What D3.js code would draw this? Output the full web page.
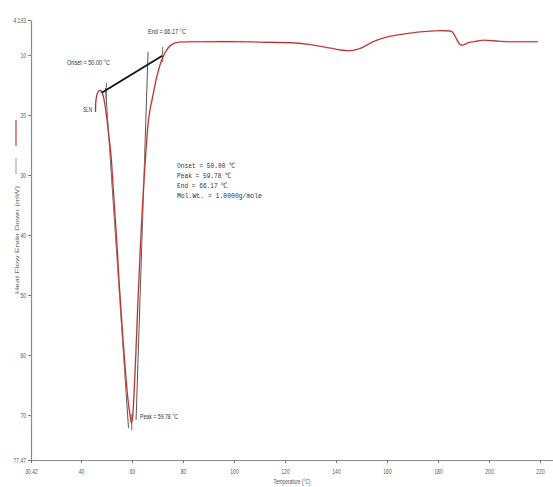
<!DOCTYPE html>
<html><head><meta charset="utf-8">
<script src="https://cdn.jsdelivr.net/npm/d3@7"></script>
<style>
body{margin:0;background:#fff;}
svg{display:block;}
</style></head>
<body><svg id="c" width="553" height="487"></svg>
<script>
// ---- data (temperature °C, heat flow mW) ----
const temperature = [45.69,45.88,46.47,47.25,48.04,48.63,49.41,50.20,50.98,51.76,52.55,53.33,54.12,54.90,55.69,56.47,57.25,58.04,58.82,59.41,59.80,60.20,60.78,61.57,62.35,63.14,63.92,64.71,65.49,66.27,67.06,67.84,68.63,69.41,70.20,70.98,72.16,73.33,74.90,76.86,78.82,86.67,104.31,112.16,121.96,129.80,137.65,141.57,145.49,149.41,154.51,159.22,163.92,170.20,174.90,179.61,183.53,185.49,186.67,187.45,188.63,189.80,191.76,194.51,197.65,202.35,207.06,212.16,219.22];
const heatFlow = [19.51,17.52,16.35,15.93,16.10,16.68,18.35,20.85,23.68,26.68,31.67,36.67,41.67,47.49,52.49,57.49,61.65,65.81,68.81,70.48,71.31,70.48,66.65,59.15,50.82,43.33,36.67,30.84,25.84,21.68,19.18,17.52,15.85,14.19,12.85,11.69,10.36,9.36,8.52,8.02,7.86,7.81,7.81,7.91,7.97,8.27,8.86,9.16,9.31,8.94,7.81,7.11,6.69,6.31,6.11,5.98,6.00,6.14,6.86,7.52,8.27,8.36,7.99,7.77,7.57,7.66,7.81,7.81,7.81];

const xTicks = [30.42,40,60,80,100,120,140,160,180,200,220];
const xTickLabels = ["30.42","40","60","80","100","120","140","160","180","200","220"];
const yTicks = [4.193,10,20,30,40,50,60,70,77.47];
const yTickLabels = ["4.193","10","20","30","40","50","60","70","77.47"];

// baseline (onset -> end) and construction lines, in data units [[T1,V1],[T2,V2]]
const baseline = [[48.12,16.30],[71.88,10.14]];
const tangentLines = [
  [[49.61,15.52],[58.63,72.14]],
  [[66.3,9.50],[61.6,70.8]]
];
const markerTicks = [
  [[49.92,14.63],[49.92,17.52]],
  [[72.04,8.64],[72.04,11.19]],
  [[59.88,69.80],[59.88,72.47]]
];
const infoLines = ["Onset = 50.00 ℃","Peak = 59.78 ℃","End = 66.17 ℃","Mol.Wt. = 1.0000g/mole"];

// ---- scales ----
const x = d3.scaleLinear().domain([30.42,40,225.1]).range([31,81,553]);
const y = d3.scaleLinear().domain([4.193,77.47]).range([20,460]);

const svg = d3.select("#c");
const narrow = "'Liberation Sans Narrow','Arial Narrow','Liberation Sans',sans-serif";
const lblW = s => s.replace(/[^.]/g,"").length*1.4 + s.replace(/\./g,"").length*2.8;

// axes
const gx = svg.append("g").attr("transform","translate(0,460)")
  .call(d3.axisBottom(x).tickValues(xTicks).tickFormat((d,i)=>xTickLabels[i]).tickSize(3).tickSizeOuter(0));
const gy = svg.append("g").attr("transform","translate(31,0)")
  .call(d3.axisLeft(y).tickValues(yTicks).tickFormat((d,i)=>yTickLabels[i]).tickSize(3).tickSizeOuter(0));
[gx,gy].forEach(g=>{
  g.select(".domain").attr("stroke","#8a8a8a").attr("stroke-width",1.2);
  g.selectAll(".tick line").attr("stroke","#777");
  g.selectAll(".tick text").attr("fill","#555").attr("font-family",narrow).attr("font-size",7)
   .attr("lengthAdjust","spacingAndGlyphs").attr("textLength",function(){return lblW(this.textContent);});
});
gx.selectAll(".tick text").attr("y",9);
gy.selectAll(".tick text").attr("x",-5);

// axis titles
svg.append("text").attr("x",292).attr("y",484).attr("text-anchor","middle")
  .attr("font-family",narrow).attr("font-size",6.5).attr("fill","#555")
  .attr("textLength",37).attr("lengthAdjust","spacingAndGlyphs").text("Temperature (°C)");
svg.append("text").attr("transform","translate(18.5,240) rotate(-90)").attr("text-anchor","middle")
  .attr("font-family","'Liberation Sans',Arial,sans-serif").attr("font-size",6).attr("fill","#666")
  .attr("textLength",108).attr("lengthAdjust","spacingAndGlyphs").text("Heat Flow Endo Down (mW)");
// left legend marks
svg.append("line").attr("x1",16).attr("x2",16).attr("y1",120).attr("y2",146).attr("stroke","#b5332e").attr("stroke-width",1.1);
svg.append("line").attr("x1",16).attr("x2",16).attr("y1",158).attr("y2",174).attr("stroke","#999").attr("stroke-width",1);

// construction lines
const seg = d3.line().x(d=>x(d[0])).y(d=>y(d[1]));
svg.selectAll(".tan").data(tangentLines).join("path").attr("d",seg)
  .attr("fill","none").attr("stroke","#555").attr("stroke-width",1);
svg.selectAll(".mk").data(markerTicks).join("path").attr("d",seg)
  .attr("fill","none").attr("stroke","#666").attr("stroke-width",1);

// curve
const curve = d3.line().x((d,i)=>x(temperature[i])).y((d,i)=>y(heatFlow[i])).curve(d3.curveCatmullRom.alpha(0.5));
svg.append("path").datum(heatFlow).attr("d",curve).attr("fill","none")
  .attr("stroke","#e8b0b0").attr("stroke-width",2).attr("opacity",0.5);
svg.append("path").datum(heatFlow).attr("d",curve).attr("fill","none")
  .attr("stroke","#b5332e").attr("stroke-width",1.15);

// baseline
svg.append("path").datum(baseline).attr("d",seg).attr("fill","none").attr("stroke","#111").attr("stroke-width",1.8);

// annotation labels
const ann = [
  {t:"Onset = 50.00 °C", x:67, y:65, w:43},
  {t:"End = 66.17 °C", x:148, y:34, w:38},
  {t:"SLN", x:83, y:112, w:9},
  {t:"Peak = 59.78 °C", x:140, y:419, w:38}
];
svg.selectAll(".ann").data(ann).join("text").attr("x",d=>d.x).attr("y",d=>d.y)
  .attr("font-family",narrow).attr("font-size",8).attr("fill","#333")
  .attr("textLength",d=>d.w).attr("lengthAdjust","spacingAndGlyphs").text(d=>d.t);

// info block
svg.selectAll(".info").data(infoLines).join("text")
  .attr("x",177).attr("y",(d,i)=>168+i*10)
  .attr("font-family","'Liberation Mono','DejaVu Sans Mono',monospace").attr("font-size",7.5).attr("fill","#333")
  .attr("textLength",d=>d.length*3.86).attr("lengthAdjust","spacingAndGlyphs").text(d=>d);
</script></body></html>
